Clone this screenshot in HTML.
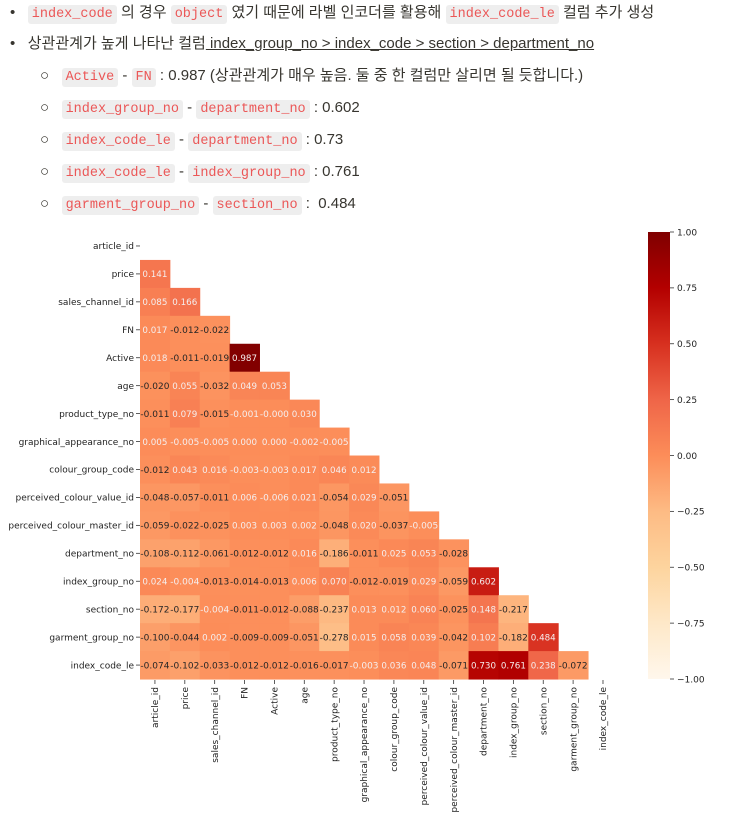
<!DOCTYPE html>
<html><head><meta charset="utf-8">
<style>
body{margin:0;width:736px;height:820px;background:#fff;font-family:"Liberation Sans","Noto Sans CJK KR",sans-serif;color:#37352f;overflow:hidden;position:relative}
.line{position:absolute;font-size:15px;white-space:nowrap;line-height:22px}
code{font-family:"Liberation Mono","DejaVu Sans Mono",monospace;font-size:13.5px;color:#eb5757;background:#eeeeee;border-radius:3px;padding:2px 4px}
.u{text-decoration:underline}
</style></head><body>
<div class="line" style="left:10px;top:2px">•&nbsp;&nbsp;&nbsp;<code>index_code</code> 의 경우 <code>object</code> 였기 때문에 라벨 인코더를 활용해 <code>index_code_le</code> 컬럼 추가 생성</div>
<div class="line" style="left:10px;top:33px">•&nbsp;&nbsp;&nbsp;상관관계가 높게 나타난 컬럼<span class="u"> index_group_no &gt; index_code &gt; section &gt; department_no</span></div>
<div class="line" style="left:40px;top:65px">○&nbsp;&nbsp;&nbsp;<code>Active</code> - <code>FN</code> : 0.987 (상관관계가 매우 높음. 둘 중 한 컬럼만 살리면 될 듯합니다.)</div>
<div class="line" style="left:40px;top:97px">○&nbsp;&nbsp;&nbsp;<code>index_group_no</code> - <code>department_no</code> : 0.602</div>
<div class="line" style="left:40px;top:129px">○&nbsp;&nbsp;&nbsp;<code>index_code_le</code> - <code>department_no</code> : 0.73</div>
<div class="line" style="left:40px;top:161px">○&nbsp;&nbsp;&nbsp;<code>index_code_le</code> - <code>index_group_no</code> : 0.761</div>
<div class="line" style="left:40px;top:193px">○&nbsp;&nbsp;&nbsp;<code>garment_group_no</code> - <code>section_no</code> :&nbsp; 0.484</div>
<svg id="chart" width="736" height="820" style="position:absolute;left:0;top:0" font-family="DejaVu Sans, Liberation Sans, sans-serif">
<defs><linearGradient id="cg" x1="0" y1="1" x2="0" y2="0">
<stop offset="0" stop-color="#fff7ec"/><stop offset="0.125" stop-color="#fee8c8"/><stop offset="0.25" stop-color="#fdd49e"/><stop offset="0.375" stop-color="#fdbb84"/><stop offset="0.5" stop-color="#fc8d59"/><stop offset="0.625" stop-color="#ef6548"/><stop offset="0.75" stop-color="#d7301f"/><stop offset="0.875" stop-color="#b30000"/><stop offset="1" stop-color="#7f0000"/>
</linearGradient></defs>
</svg>
<script>
const labels=["article_id","price","sales_channel_id","FN","Active","age","product_type_no","graphical_appearance_no","colour_group_code","perceived_colour_value_id","perceived_colour_master_id","department_no","index_group_no","section_no","garment_group_no","index_code_le"];
const rowValues=[
[],
[0.141],
[0.085,0.166],
[0.017,-0.012,-0.022],
[0.018,-0.011,-0.019,0.987],
[-0.020,0.055,-0.032,0.049,0.053],
[-0.011,0.079,-0.015,-0.001,-0.0004,0.030],
[0.005,-0.005,-0.005,0.000,0.000,-0.002,-0.005],
[-0.012,0.043,0.016,-0.003,-0.003,0.017,0.046,0.012],
[-0.048,-0.057,-0.011,0.006,-0.006,0.021,-0.054,0.029,-0.051],
[-0.059,-0.022,-0.025,0.003,0.003,0.002,-0.048,0.020,-0.037,-0.005],
[-0.108,-0.112,-0.061,-0.012,-0.012,0.016,-0.186,-0.011,0.025,0.053,-0.028],
[0.024,-0.004,-0.013,-0.014,-0.013,0.006,0.070,-0.012,-0.019,0.029,-0.059,0.602],
[-0.172,-0.177,-0.004,-0.011,-0.012,-0.088,-0.237,0.013,0.012,0.060,-0.025,0.148,-0.217],
[-0.100,-0.044,0.002,-0.009,-0.009,-0.051,-0.278,0.015,0.058,0.039,-0.042,0.102,-0.182,0.484],
[-0.074,-0.102,-0.033,-0.012,-0.012,-0.016,-0.017,-0.003,0.036,0.048,-0.071,0.730,0.761,0.238,-0.072]
];
const cbTicks=[1.00,0.75,0.50,0.25,0.00,-0.25,-0.50,-0.75,-1.00];
const NS="http://www.w3.org/2000/svg";
const svg=document.getElementById('chart');
const X0=140,CW=29.87,Y0=232,RH=27.94;
const xc=i=>X0+i*CW, yr=i=>Y0+i*RH;
const CB={x:648,w:22,top:232,bot:679};
const cbY=v=>CB.top+(1-v)/2*(CB.bot-CB.top);
const stops=["#fff7ec","#fee8c8","#fdd49e","#fdbb84","#fc8d59","#ef6548","#d7301f","#b30000","#7f0000"].map(h=>[parseInt(h.slice(1,3),16),parseInt(h.slice(3,5),16),parseInt(h.slice(5,7),16)]);
function color(v){let t=(v+1)/2*8;let i=Math.min(7,Math.floor(t));let f=t-i;const a=stops[i],b=stops[i+1];return `rgb(${a.map((c,k)=>Math.round(c+(b[k]-c)*f)).join(',')})`;}
function mk(tag,attrs){const e=document.createElementNS(NS,tag);for(const k in attrs)e.setAttribute(k,attrs[k]);svg.appendChild(e);return e;}
rowValues.forEach((row,r)=>{row.forEach((v,c)=>{
 const rc=mk('rect',{x:xc(c),y:yr(r),width:CW+0.5,height:RH+0.5,fill:color(v)});
 
 
 const t=mk('text',{x:xc(c)+CW/2,y:yr(r)+RH/2+3.3,'text-anchor':'middle','font-size':'9','textLength':v<0?'29':'25','lengthAdjust':'spacingAndGlyphs',fill:v>-0.008?'#f5eeee':'#262626'});
 t.textContent=(v<0?'-':'')+Math.abs(v).toFixed(3);
 
 
});});
labels.forEach((l,i)=>{
 const yc=yr(i)+RH/2;
 mk('line',{x1:X0-4,x2:X0,y1:yc,y2:yc,stroke:'#333','stroke-width':0.8});
 const t=mk('text',{x:X0-6,y:yc+3.2,'text-anchor':'end','font-size':'9',fill:'#222'});
 t.textContent=l;
 
 
 const xm=xc(i)+CW/2;
 mk('line',{x1:xm,x2:xm,y1:CB.bot+1,y2:CB.bot+5,stroke:'#333','stroke-width':0.8});
 const tx=mk('text',{x:0,y:0,'text-anchor':'end','font-size':'9',fill:'#222',transform:`translate(${xm+3.2},${CB.bot+8}) rotate(-90)`});
 tx.textContent=l;
 
 
});
const cb=mk('rect',{x:CB.x,y:CB.top,width:CB.w,height:CB.bot-CB.top,fill:'url(#cg)'});


cbTicks.forEach(v=>{
 const y=cbY(v);
 mk('line',{x1:CB.x+CB.w,x2:CB.x+CB.w+4,y1:y,y2:y,stroke:'#333','stroke-width':0.8});
 const t=mk('text',{x:CB.x+CB.w+7,y:y+3.3,'font-size':'9',fill:'#222'});
 t.textContent=(v<0?'\u2212':'')+Math.abs(v).toFixed(2);
 
 
});
</script>
</body></html>
